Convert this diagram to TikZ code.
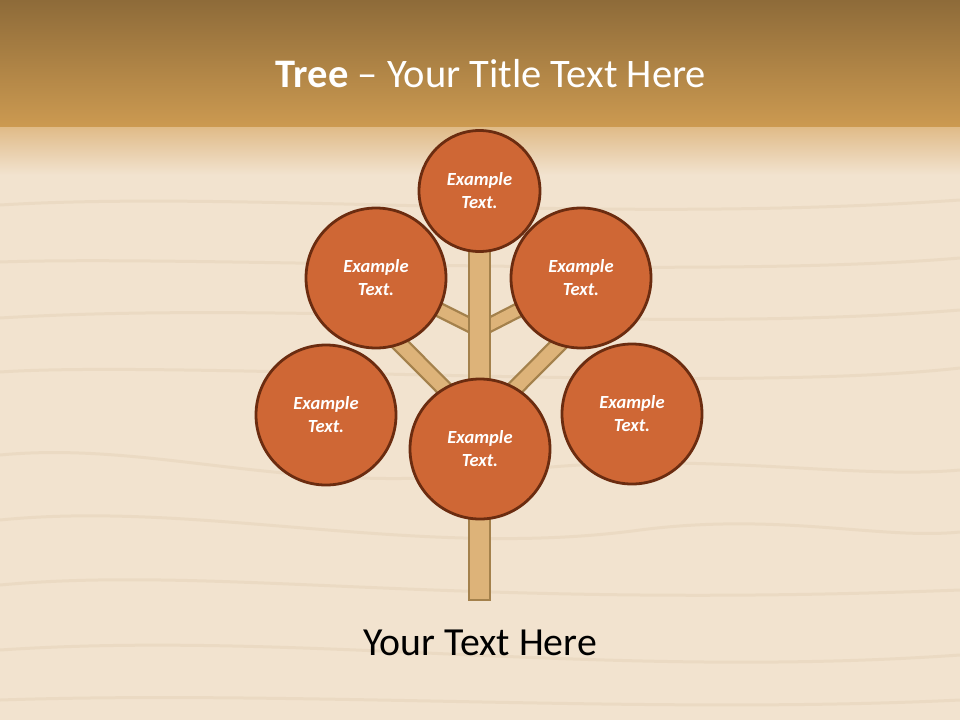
\documentclass[tikz,border=0pt]{standalone}
\usepackage{fontspec}
\setmainfont{Carlito}
\definecolor{bgwood}{HTML}{F2E3CF}
\definecolor{grainc}{HTML}{E0CBAE}
\definecolor{topdark}{HTML}{8E6B39}
\definecolor{topmid}{HTML}{CC9A51}
\definecolor{topfade}{HTML}{E0BB88}
\definecolor{leaf}{HTML}{CF6735}
\definecolor{leafline}{HTML}{6B2C10}
\definecolor{bark}{HTML}{DDB379}
\definecolor{barkline}{HTML}{A4814C}
\pgfdeclarelayer{bg}
\pgfdeclarelayer{back}
\pgfsetlayers{bg,back,main}
\tikzset{
  leafbig/.style={circle, draw=leafline, line width=2.8pt, fill=leaf, minimum size=140pt, inner sep=0pt,
    text=white, font=\fontsize{18.5}{23}\selectfont\bfseries\itshape, align=center},
  leafsmall/.style={leafbig, minimum size=121pt},
  trunkbox/.style={rectangle, draw=barkline, line width=2.3pt, fill=bark, minimum width=21pt, minimum height=349pt, inner sep=0pt},
  branchthin/.style={draw=barkline, line width=2.3pt, double=bark, double distance=11pt},
  branchthick/.style={draw=barkline, line width=2.3pt, double=bark, double distance=13pt},
  grain/.style={draw=grainc, line width=3pt, opacity=0.35},
  titletext/.style={text=white, font=\fontsize{40.5}{48}\selectfont, inner sep=0pt},
  bodytext/.style={text=black, font=\fontsize{39.8}{46}\selectfont, inner sep=0pt}
}
\begin{document}
\begin{tikzpicture}[x=1pt,y=-1pt]
\useasboundingbox (0,0) rectangle (960,720);
\begin{pgfonlayer}{bg}
\fill[bgwood] (0,0) rectangle (960,720);
\shade[top color=topdark,bottom color=topmid] (0,0) rectangle (960,127);
\shade[top color=topfade,bottom color=bgwood] (0,127) rectangle (960,175);
% wood grain
\draw[grain] (0,205) .. controls (250,190) and (600,225) .. (960,200);
\draw[grain] (0,262) .. controls (200,255) and (700,280) .. (960,258);
\draw[grain] (0,318) .. controls (300,300) and (650,335) .. (960,310);
\draw[grain] (0,372) .. controls (180,360) and (720,395) .. (960,368);
\draw[grain] (0,455) .. controls (160,440) and (300,500) .. (520,470) .. controls (700,450) and (850,480) .. (960,470);
\draw[grain] (0,520) .. controls (200,500) and (420,560) .. (640,530) .. controls (780,512) and (880,540) .. (960,532);
\draw[grain] (0,585) .. controls (220,565) and (450,610) .. (960,590);
\draw[grain] (0,650) .. controls (300,630) and (600,680) .. (960,655);
\draw[grain] (0,700) .. controls (300,690) and (650,715) .. (960,700);
\end{pgfonlayer}

\node[titletext, anchor=base] (title) at (491,87) {\textbf{Tree} – Your Title Text Here};

\node[leafsmall] (top) at (479.5,191) {Example\\Text.};
\node[leafbig] (ul) at (376,278) {Example\\Text.};
\node[leafbig] (ur) at (581,278) {Example\\Text.};
\node[leafbig] (ll) at (326,415) {Example\\Text.};
\node[leafbig] (lr) at (632,414) {Example\\Text.};
\node[leafbig] (cb) at (480,449) {Example\\Text.};

\coordinate (jup) at (479.5,330);
\coordinate (jlow) at (479.5,424);
\coordinate (llend) at (380,324);
\coordinate (lrend) at (579,324);

\begin{pgfonlayer}{back}
\draw[branchthin] (jup) -- (ul.center);
\draw[branchthin] (jup) -- (ur.center);
\draw[branchthick] (jlow) -- (llend);
\draw[branchthick] (jlow) -- (lrend);
\node[trunkbox] (trunk) at (479.5,425.5) {};
\end{pgfonlayer}

\node[bodytext, anchor=base] (caption) at (480,655) {Your Text Here};
\end{tikzpicture}
\end{document}
